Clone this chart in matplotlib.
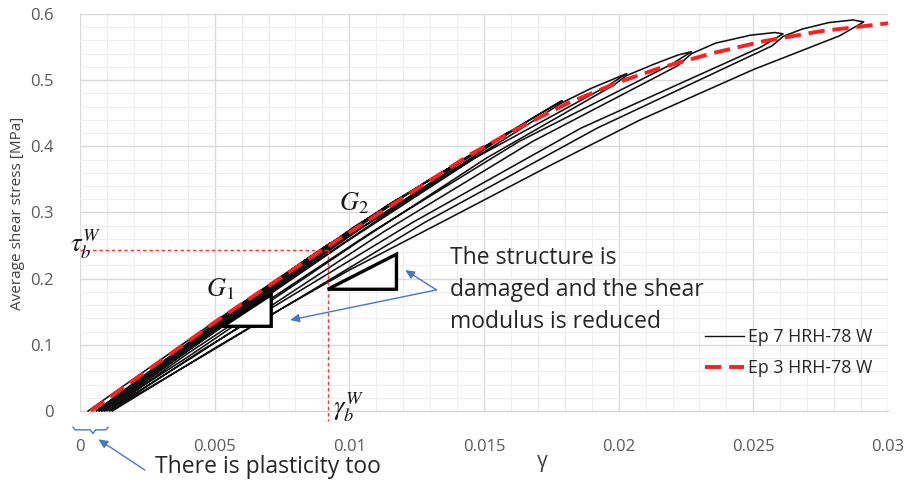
import matplotlib
matplotlib.use("Agg")
import matplotlib.pyplot as plt
from matplotlib.ticker import MultipleLocator, FixedLocator
from matplotlib.lines import Line2D

plt.rcParams['font.family'] = ['Open Sans', 'DejaVu Sans']
plt.rcParams['mathtext.fontset'] = 'stix'

# ---- data -------------------------------------------------------------
# Ep 3 HRH-78 W: monotonic curve (shear strain, shear stress in MPa)
gamma_ep3 = [0.0004, 0.0051, 0.0074, 0.0091, 0.0118, 0.0145, 0.0165, 0.0181,
             0.0200, 0.0215, 0.0235, 0.0254, 0.0275, 0.0300]
tau_ep3 = [0.0, 0.137, 0.200, 0.246, 0.317, 0.388, 0.432, 0.465,
           0.497, 0.518, 0.541, 0.559, 0.574, 0.586]

# Ep 7 HRH-78 W: cyclic test, full load path (loading / unloading / reloading)
gamma_ep7 = [
    0.0003, 0.0051, 0.0074, 0.0093,
    0.00837, 0.00621, 0.00337, 0.0006,
    0.00345, 0.0063, 0.0084, 0.0093, 0.0105, 0.0118,
    0.01058, 0.0078, 0.0042, 0.0007,
    0.0043, 0.0080, 0.0107, 0.0118, 0.0129, 0.0140,
    0.01248, 0.00905, 0.00483, 0.0008,
    0.0050, 0.0093, 0.0127, 0.0140, 0.0150, 0.0159,
    0.01416, 0.01016, 0.00533, 0.0008,
    0.0056, 0.0105, 0.0144, 0.0159, 0.0169, 0.0179,
    0.01595, 0.01136, 0.00592, 0.0009,
    0.0062, 0.0118, 0.0162, 0.0179, 0.0190, 0.0203,
    0.01962, 0.01467, 0.00986, 0.00365, 0.0009,
    0.0040, 0.0103, 0.0151, 0.0198, 0.0203, 0.0213, 0.0222, 0.0227,
    0.02196, 0.0163, 0.01087, 0.0040, 0.0010,
    0.0044, 0.0113, 0.0168, 0.0222, 0.0227, 0.0236, 0.0249, 0.0258, 0.0261,
    0.02528, 0.0186, 0.01235, 0.0045, 0.0011,
    0.0049, 0.0128, 0.0192, 0.0257, 0.0261, 0.0268, 0.0278, 0.0287, 0.0291,
    0.0282, 0.0250, 0.0208, 0.0175, 0.01374, 0.0100, 0.0075, 0.0050, 0.0012,
]
tau_ep7 = [
    0.0, 0.138, 0.201, 0.254,
    0.2286, 0.1676, 0.0838, 0.0,
    0.0838, 0.1676, 0.2286, 0.252, 0.286, 0.320,
    0.288, 0.2112, 0.1056, 0.0,
    0.1056, 0.2112, 0.288, 0.318, 0.348, 0.374,
    0.3366, 0.2468, 0.1234, 0.0,
    0.1234, 0.2468, 0.3366, 0.372, 0.398, 0.421,
    0.3789, 0.2779, 0.1389, 0.0,
    0.1389, 0.2779, 0.3789, 0.419, 0.445, 0.469,
    0.4221, 0.3095, 0.1548, 0.0,
    0.1548, 0.3095, 0.4221, 0.466, 0.488, 0.510,
    0.4922, 0.3825, 0.255, 0.0816, 0.0,
    0.0816, 0.255, 0.3825, 0.4922, 0.507, 0.524, 0.538, 0.543,
    0.524, 0.4073, 0.2715, 0.0869, 0.0,
    0.0869, 0.2715, 0.4073, 0.522, 0.540, 0.556, 0.568, 0.572, 0.570,
    0.550, 0.4275, 0.285, 0.0912, 0.0,
    0.0912, 0.285, 0.4275, 0.552, 0.566, 0.577, 0.587, 0.591, 0.588,
    0.567, 0.516, 0.440, 0.372, 0.292, 0.213, 0.155, 0.095, 0.0,
]

# limit of the linear range
gamma_b = 0.0092
tau_b = 0.243

# slope triangles (G1 initial modulus, G2 reduced modulus)
tri_g1_gamma = [0.0053, 0.0071, 0.0071]
tri_g1_tau = [0.128, 0.176, 0.128]
tri_g2_gamma = [0.0092, 0.01175, 0.01175]
tri_g2_tau = [0.184, 0.237, 0.184]

x_ticks = [0, 0.005, 0.01, 0.015, 0.02, 0.025, 0.03]
x_tick_labels = ['0', '0.005', '0.01', '0.015', '0.02', '0.025', '0.03']
y_ticks = [0, 0.1, 0.2, 0.3, 0.4, 0.5, 0.6]
y_tick_labels = ['0', '0.1', '0.2', '0.3', '0.4', '0.5', '0.6']

# ---- figure -----------------------------------------------------------
fig = plt.figure(figsize=(9.10, 4.91), dpi=100)
ax = fig.add_axes([80 / 910, 1 - 411 / 491, 808 / 910, 397 / 491])

ax.set_xlim(0, 0.03)
ax.set_ylim(0, 0.6)
ax.xaxis.set_major_locator(FixedLocator(x_ticks))
ax.yaxis.set_major_locator(FixedLocator(y_ticks))
ax.set_xticklabels(x_tick_labels)
ax.set_yticklabels(y_tick_labels)
ax.xaxis.set_minor_locator(MultipleLocator(0.001))
ax.yaxis.set_minor_locator(MultipleLocator(0.02))
ax.grid(which='major', color='#d9d9d9', lw=1.0, zorder=0)
ax.grid(which='minor', color='#eeeeee', lw=0.8, zorder=0)
ax.set_axisbelow(True)
for side in ['top', 'right', 'left']:
    ax.spines[side].set_visible(False)
ax.spines['bottom'].set_color('#d0d0d0')
ax.tick_params(which='both', length=0, labelsize=12, colors='#595959')
ax.tick_params(axis='x', pad=20)
ax.tick_params(axis='y', pad=19)

# curves
ax.plot(gamma_ep7, tau_ep7, color='#111111', lw=1.15, zorder=3,
        solid_joinstyle='round', clip_on=False)
ax.plot(gamma_ep3, tau_ep3, color='#ff1f1f', lw=2.8, dashes=(4.2, 2.0),
        zorder=6, clip_on=False)

# slope triangles
ax.fill(tri_g1_gamma, tri_g1_tau, facecolor='white', edgecolor='black',
        lw=2.4, zorder=5, joinstyle='miter')
ax.fill(tri_g2_gamma, tri_g2_tau, facecolor='white', edgecolor='black',
        lw=2.4, zorder=5, joinstyle='miter')

# linear-range limit
red_dot = dict(color='#ff3030', lw=1.0, dashes=(2.5, 2.0), zorder=4)
ax.plot([0, gamma_b], [tau_b, tau_b], **red_dot)
ax.plot([gamma_b, gamma_b], [tau_b, -0.015], clip_on=False, **red_dot)

math_kw = dict(fontsize=19, color='#1a1a1a', zorder=7)
ax.text(-0.00037, 0.252, r'$\tau_b^W$', ha='left', va='center',
        clip_on=False, **math_kw)
ax.text(0.0094, 0.006, r'$\gamma_b^W$', ha='left', va='center',
        clip_on=False, **math_kw)
ax.text(0.0052, 0.184, r'$G_1$', ha='center', va='center', **math_kw)
ax.text(0.01017, 0.314, r'$G_2$', ha='center', va='center', **math_kw)

# annotations
note_kw = dict(fontsize=16.5, color='#262626', ha='left', va='center')
ax.text(0.01374, 0.2305, 'The structure is', **note_kw)
ax.text(0.01374, 0.183, 'damaged and the shear', **note_kw)
ax.text(0.01374, 0.1345, 'modulus is reduced', **note_kw)
ax.text(0.00278, -0.0846, 'There is plasticity too', clip_on=False, **note_kw)

arrow_kw = dict(arrowstyle='-|>,head_length=0.55,head_width=0.25',
                color='#4a76c6', lw=1.0, shrinkA=0, shrinkB=0)
ax.annotate('', xy=(0.01207, 0.213), xytext=(0.01324, 0.183),
            arrowprops=arrow_kw, zorder=7)
ax.annotate('', xy=(0.0078, 0.1375), xytext=(0.01324, 0.183),
            arrowprops=arrow_kw, zorder=7)
ax.annotate('', xy=(0.00068, -0.0428), xytext=(0.00241, -0.0893),
            arrowprops=arrow_kw, annotation_clip=False, zorder=7)

# brace under the residual strain
brace_gamma = [-0.00026, -0.00018, 0.00038, 0.00048, 0.00058, 0.00096, 0.00104]
brace_tau = [-0.0245, -0.0285, -0.0285, -0.034, -0.0285, -0.0285, -0.0245]
ax.plot(brace_gamma, brace_tau, color='#4a76c6', lw=1.0, clip_on=False)

# legend
handles = [Line2D([], [], color='#111111', lw=1.0),
           Line2D([], [], color='#ff1f1f', lw=2.8, dashes=(4.2, 2.0))]
ax.legend(handles, ['Ep 7 HRH-78 W', 'Ep 3 HRH-78 W'], loc='center left',
          bbox_to_anchor=(0.7735, 0.147), frameon=False, fontsize=12.8,
          handlelength=2.2, handletextpad=0.2, labelspacing=0.75,
          borderpad=0, borderaxespad=0, labelcolor='#262626')

# axis titles
fig.text(542 / 910, 1 - 461 / 491, 'γ', fontsize=15, color='#404040',
         ha='center', va='center')
fig.text(18 / 910, 1 - 213 / 491, 'Average shear stress [MPa]', fontsize=11,
         color='#404040', rotation=90, ha='center', va='center')

fig.savefig('out.png', dpi=100)
